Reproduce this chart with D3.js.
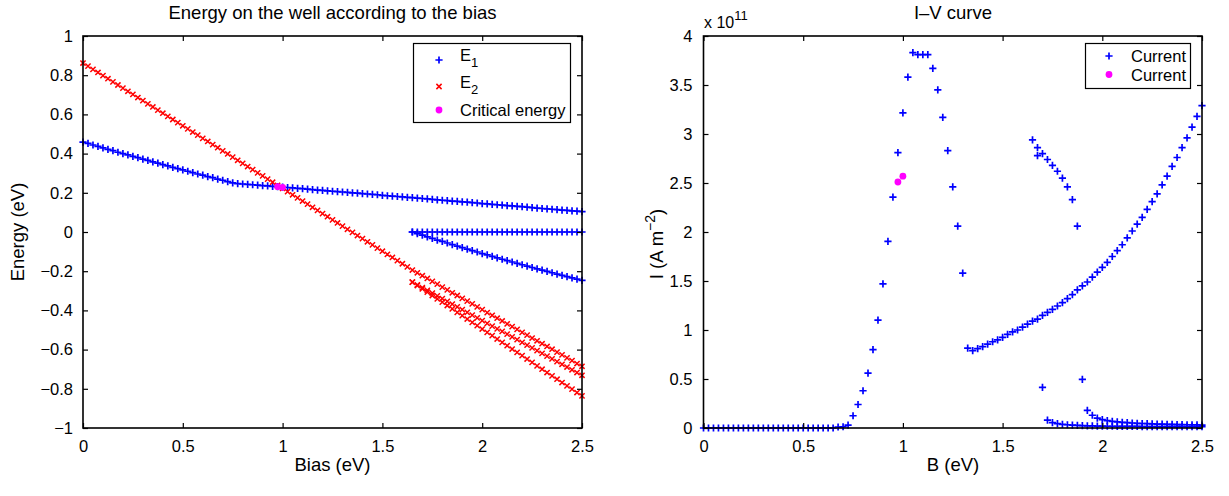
<!DOCTYPE html>
<html><head><meta charset="utf-8">
<script src="https://cdn.jsdelivr.net/npm/d3@7"></script>
<style>body{margin:0;background:#fff} text{font-family:"Liberation Sans",Arial,Helvetica,sans-serif;fill:#000}</style>
</head><body><svg id="c" width="1229" height="496"></svg>
<script>
// ---------- data ----------
const biasStep = 0.025;           // sampling of the bias (eV)
const branchStart = 1.65;         // bias where extra states appear
const e1Main = [0.459,0.452,0.444,0.437,0.429,0.422,0.415,0.407,0.400,0.393,
 0.386,0.379,0.372,0.365,0.358,0.351,0.344,0.337,0.330,0.323,
 0.317,0.310,0.303,0.296,0.290,0.283,0.277,0.270,0.264,0.257,
 0.251,0.247,0.245,0.243,0.241,0.239,0.237,0.235,0.233,0.231,
 0.229,0.227,0.225,0.223,0.221,0.219,0.216,0.214,0.212,0.210,
 0.208,0.206,0.204,0.202,0.200,0.198,0.196,0.194,0.192,0.190,
 0.187,0.185,0.183,0.181,0.179,0.177,0.175,0.173,0.171,0.169,
 0.166,0.164,0.162,0.160,0.158,0.156,0.154,0.152,0.150,0.148,
 0.145,0.143,0.141,0.139,0.137,0.135,0.133,0.131,0.129,0.127,
 0.124,0.122,0.120,0.118,0.116,0.114,0.112,0.110,0.108,0.106,0.104];
const e2Main = [0.862,0.846,0.830,0.814,0.798,0.782,0.766,0.750,0.734,0.718,
 0.702,0.686,0.670,0.654,0.638,0.622,0.606,0.590,0.574,0.558,
 0.542,0.526,0.510,0.494,0.478,0.462,0.446,0.430,0.414,0.398,
 0.382,0.366,0.350,0.334,0.318,0.302,0.286,0.270,0.254,0.238,
 0.222,0.206,0.190,0.174,0.158,0.142,0.126,0.110,0.094,0.078,
 0.062,0.046,0.030,0.014,-0.002,-0.018,-0.034,-0.050,-0.066,-0.082,
 -0.098,-0.114,-0.130,-0.146,-0.162,-0.178,-0.194,-0.208,-0.223,-0.237,
 -0.252,-0.266,-0.281,-0.295,-0.310,-0.324,-0.339,-0.353,-0.367,-0.382,
 -0.396,-0.411,-0.425,-0.440,-0.454,-0.469,-0.483,-0.497,-0.512,-0.526,
 -0.541,-0.555,-0.570,-0.584,-0.598,-0.613,-0.627,-0.642,-0.656,-0.671,-0.685];
const e1Flat = [0,0,0,0,0,0,0,0,0,0,0,0,0,0,0,0,0,0,0,0,0,0,0,0,0,0,0,0,0,0,0,0,0,0,0];
const e1Desc = [0,-0.008,-0.016,-0.025,-0.033,-0.041,-0.048,-0.056,-0.064,-0.072,
 -0.080,-0.087,-0.095,-0.102,-0.110,-0.117,-0.124,-0.132,-0.139,-0.146,
 -0.153,-0.160,-0.167,-0.174,-0.181,-0.188,-0.195,-0.201,-0.208,-0.215,
 -0.221,-0.228,-0.234,-0.240,-0.247];
const e2BranchA = [-0.256,-0.270,-0.284,-0.298,-0.312,-0.326,-0.340,-0.354,-0.368,-0.382,
 -0.396,-0.410,-0.424,-0.438,-0.452,-0.466,-0.480,-0.494,-0.507,-0.521,
 -0.535,-0.549,-0.563,-0.577,-0.591,-0.605,-0.619,-0.633,-0.647,-0.661,
 -0.675,-0.689,-0.703,-0.717,-0.731];
const e2BranchB = [-0.256,-0.273,-0.290,-0.307,-0.324,-0.341,-0.358,-0.375,-0.392,-0.410,
 -0.427,-0.444,-0.461,-0.478,-0.495,-0.512,-0.529,-0.546,-0.563,-0.580,
 -0.597,-0.614,-0.631,-0.648,-0.665,-0.683,-0.700,-0.717,-0.734,-0.751,
 -0.768,-0.785,-0.802,-0.819,-0.836];
const criticalBias = [0.975, 1.0];
const criticalEnergy = [0.231, 0.228];
// current density, units of 1e11 A m^-2
const currentMain = [0,0,0,0,0,0,0,0,0,0,0,0,0,0,0,0,0,0,0,0,0,0,0,0,0,0,0,
 0.01,0.013,0.03,0.125,0.24,0.38,0.56,0.80,1.10,1.47,1.905,2.355,2.81,3.215,3.58,3.83,
 3.81,3.81,3.81,3.67,3.45,3.17,2.83,2.46,2.06,1.58,
 0.815,0.79,0.81,0.83,0.855,0.88,0.90,0.925,0.955,0.98,1.00,1.03,1.06,1.09,1.11,1.15,
 1.18,1.21,1.245,1.28,1.32,1.36,1.41,1.45,1.49,1.54,1.59,1.64,1.69,1.75,1.81,1.87,
 1.94,2.01,2.08,2.15,2.23,2.31,2.39,2.48,2.57,2.67,2.76,2.86,2.96,3.07,3.18,3.29];
const currentBranchB = [2.94,2.86,0.415,0.08,0.055,0.045,0.038,0.033,0.029,0.026,
 0.024,0.022,0.021,0.020,0.019,0.018,0.018,0.017,0.017,0.016,
 0.016,0.016,0.015,0.015,0.015,0.015,0.014,0.014,0.014,0.014,
 0.014,0.013,0.013,0.013,0.013];
const branchCStart = 1.675;
const currentBranchC = [2.78,2.80,2.74,2.68,2.62,2.55,2.46,2.33,2.06,
 0.497,0.18,0.13,0.10,0.085,0.075,0.068,0.062,0.058,0.054,
 0.051,0.048,0.046,0.044,0.042,0.040,0.039,0.037,0.036,0.035,
 0.034,0.033,0.032,0.031,0.030];
const criticalCurrent = [2.51, 2.57];
const biasTicks = [0, 0.5, 1, 1.5, 2, 2.5];
const energyTicks = [-1, -0.8, -0.6, -0.4, -0.2, 0, 0.2, 0.4, 0.6, 0.8, 1];
const currentTicks = [0, 0.5, 1, 1.5, 2, 2.5, 3, 3.5, 4];
const leftLegend = ["E1", "E2", "Critical energy"];
const rightLegend = ["Current", "Current"];

// ---------- helpers ----------
const svg = d3.select("#c");
svg.append("rect").attr("width",1229).attr("height",496).attr("fill","#fff");
const BLUE = "#0000ff", RED = "#ff0000", MAG = "#ff00ff";
const TICK_FS = 16.5, LABEL_FS = 18.5;
const plusPath = "M-3.6,0H3.6M0,-3.6V3.6";
const crossPath = "M-2.6,-2.6L2.6,2.6M-2.6,2.6L2.6,-2.6";
const fmt = d => d3.format("")(d);
function pts(vals, start){ return vals.map((v,i)=>({x: +(start + i*biasStep).toFixed(4), y: v})); }

function drawMarkers(g, x, y, data, type){
  if(type === "plus" || type === "cross"){
    g.append("g").selectAll("path").data(data).join("path")
      .attr("transform", d=>`translate(${x(d.x)},${y(d.y)})`)
      .attr("d", type==="plus" ? plusPath : crossPath)
      .attr("stroke", type==="plus" ? BLUE : RED)
      .attr("stroke-width", type==="plus" ? 1.7 : 1.5).attr("fill","none");
  } else {
    g.append("g").selectAll("circle").data(data).join("circle")
      .attr("cx", d=>x(d.x)).attr("cy", d=>y(d.y)).attr("r", 3.4).attr("fill", MAG);
  }
}

function frame(x, y, yTicks, xLabelPad, yLabelPad){
  const g = svg.append("g");
  const [x0,x1] = x.range(), [y0,y1] = y.range();
  const style = sel => { sel.select(".domain").remove(); sel.selectAll("line").attr("stroke","#000").attr("stroke-width",1.2);
    sel.selectAll("text").attr("font-size",TICK_FS).attr("fill","#000").attr("font-family","Liberation Sans, Arial, sans-serif"); };
  g.append("g").attr("transform",`translate(0,${y0})`)
    .call(d3.axisBottom(x).tickValues(biasTicks).tickFormat(fmt).tickSizeInner(-5).tickSizeOuter(0).tickPadding(xLabelPad)).call(style);
  g.append("g").attr("transform",`translate(0,${y1})`)
    .call(d3.axisTop(x).tickValues(biasTicks).tickFormat("").tickSizeInner(-5).tickSizeOuter(0)).call(style);
  g.append("g").attr("transform",`translate(${x0},0)`)
    .call(d3.axisLeft(y).tickValues(yTicks).tickFormat(fmt).tickSizeInner(-5).tickSizeOuter(0).tickPadding(yLabelPad)).call(style);
  g.append("g").attr("transform",`translate(${x1},0)`)
    .call(d3.axisRight(y).tickValues(yTicks).tickFormat("").tickSizeInner(-5).tickSizeOuter(0)).call(style);
  g.append("rect").attr("x",x0).attr("y",y1).attr("width",x1-x0).attr("height",y0-y1)
    .attr("fill","none").attr("stroke","#000").attr("stroke-width",1.6);
  return g;
}

// ---------- left panel ----------
const xL = d3.scaleLinear().domain([0,2.5]).range([83,582]);
const yL = d3.scaleLinear().domain([-1,1]).range([428,36]);
const gL = svg.append("g");
drawMarkers(gL, xL, yL, pts(e1Main,0).concat(pts(e1Flat,branchStart), pts(e1Desc,branchStart)), "plus");
drawMarkers(gL, xL, yL, pts(e2Main,0).concat(pts(e2BranchA,branchStart), pts(e2BranchB,branchStart)), "cross");
drawMarkers(gL, xL, yL, criticalBias.map((b,i)=>({x:b,y:criticalEnergy[i]})), "dot");
frame(xL, yL, energyTicks, 12, 10);
svg.append("text").attr("x",332.5).attr("y",19).attr("text-anchor","middle").attr("font-size",LABEL_FS)
  .text("Energy on the well according to the bias");
svg.append("text").attr("x",332.5).attr("y",471).attr("text-anchor","middle").attr("font-size",LABEL_FS).text("Bias (eV)");
svg.append("text").attr("transform","translate(24,232) rotate(-90)").attr("text-anchor","middle").attr("font-size",LABEL_FS).text("Energy (eV)");

// left legend
const lg = svg.append("g");
lg.append("rect").attr("x",413.5).attr("y",43.5).attr("width",157).attr("height",79)
  .attr("fill","#fff").attr("stroke","#000").attr("stroke-width",1.2);
const legY = [60, 86.5, 110];
lg.append("path").attr("transform",`translate(439,${legY[0]})`).attr("d",plusPath).attr("stroke",BLUE).attr("stroke-width",1.7);
lg.append("path").attr("transform",`translate(439,${legY[1]})`).attr("d",crossPath).attr("stroke",RED).attr("stroke-width",1.5);
lg.append("circle").attr("cx",439).attr("cy",legY[2]).attr("r",3.4).attr("fill",MAG);
[0,1].forEach(i=>{
  const t = lg.append("text").attr("x",460).attr("y",legY[i]+1).attr("font-size",TICK_FS);
  t.append("tspan").text(leftLegend[i][0]);
  t.append("tspan").attr("dy",6).attr("font-size",13).text(leftLegend[i].slice(1));
});
lg.append("text").attr("x",460).attr("y",legY[2]+6).attr("font-size",TICK_FS).text(leftLegend[2]);

// ---------- right panel ----------
const xR = d3.scaleLinear().domain([0,2.5]).range([703.5,1202]);
const yR = d3.scaleLinear().domain([0,4]).range([428,36]);
const gR = svg.append("g");
drawMarkers(gR, xR, yR, pts(currentMain,0).concat(pts(currentBranchB,branchStart), pts(currentBranchC,branchCStart)), "plus");
drawMarkers(gR, xR, yR, criticalBias.map((b,i)=>({x:b,y:criticalCurrent[i]})), "dot");
frame(xR, yR, currentTicks, 12, 11);
svg.append("text").attr("x",953).attr("y",19).attr("text-anchor","middle").attr("font-size",LABEL_FS).text("I–V curve");
svg.append("text").attr("x",953).attr("y",471).attr("text-anchor","middle").attr("font-size",LABEL_FS).text("B (eV)");
const yl = svg.append("text").attr("transform","translate(663,244) rotate(-90)").attr("text-anchor","middle").attr("font-size",LABEL_FS);
yl.append("tspan").text("I (A m");
yl.append("tspan").attr("dy",-8).attr("font-size",14).text("−2");
yl.append("tspan").attr("dy",8).text(")");
const ex = svg.append("text").attr("x",704).attr("y",28).attr("font-size",16);
ex.append("tspan").text("x 10");
ex.append("tspan").attr("dy",-8).attr("font-size",13).text("11");

// right legend
const rg = svg.append("g");
rg.append("rect").attr("x",1085.5).attr("y",43.5).attr("width",105).attr("height",45)
  .attr("fill","#fff").attr("stroke","#000").attr("stroke-width",1.2);
rg.append("path").attr("transform","translate(1109,56)").attr("d",plusPath).attr("stroke",BLUE).attr("stroke-width",1.7);
rg.append("circle").attr("cx",1109).attr("cy",74.5).attr("r",3.4).attr("fill",MAG);
rg.append("text").attr("x",1131).attr("y",62).attr("font-size",TICK_FS).text(rightLegend[0]);
rg.append("text").attr("x",1131).attr("y",80.5).attr("font-size",TICK_FS).text(rightLegend[1]);
</script></body></html>
